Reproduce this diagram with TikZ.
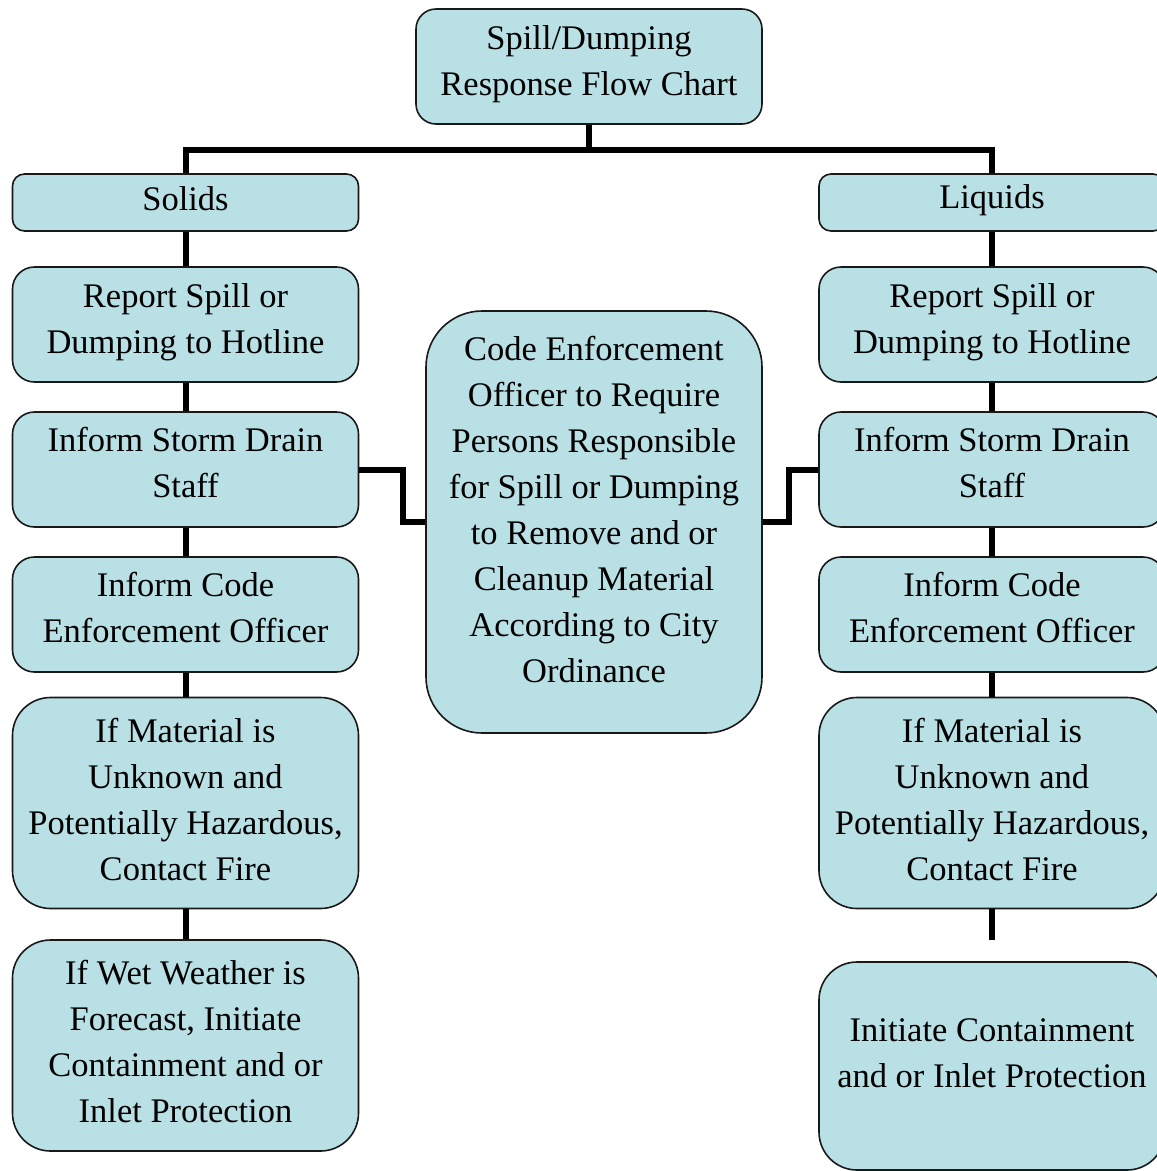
\documentclass[tikz,border=0pt]{standalone}
\usepackage{fontspec}
\setmainfont{Liberation Serif}
\definecolor{boxfill}{RGB}{185,224,228}
\newcommand\topst[1]{\rule{0pt}{#1pt}}
\newcommand\botst[1]{\rule[-#1pt]{0pt}{#1pt}}
\begin{document}
\begin{tikzpicture}[x=1pt,y=1pt,
  box/.style={draw=black!90, line width=1.6pt, fill=boxfill, minimum width=346pt,
    inner sep=0pt, align=center, font=\fontsize{34.5}{46}\selectfont},
  conn/.style={line width=6pt, black}]
\useasboundingbox (0,0) rectangle (1157,-1171);
\clip (0,0) rectangle (1157,-1171);
\coordinate (bus) at (589,-150);
\coordinate (rend) at (992,-940);
% nodes
\path
 node[box, rounded corners=20pt, minimum height=115pt] (title) at (589,-66.5) {\topst{29}Spill/Dumping\\Response Flow Chart\botst{17}}
 node[box, rounded corners=12pt, minimum height=57pt] (solids) at (185.5,-202.5) {\topst{32}Solids\botst{17}}
 node[box, rounded corners=12pt, minimum height=57pt] (liquids) at (992,-202.5) {\topst{31}Liquids\botst{18.6}}
 node[box, rounded corners=22pt, minimum height=115pt] (lrep) at (185.5,-324.5) {\topst{30}Report Spill or\\Dumping to Hotline\botst{17.6}}
 node[box, rounded corners=22pt, minimum height=115pt] (lstorm) at (185.5,-469.5) {\topst{29}Inform Storm Drain\\Staff\botst{18.6}}
 node[box, rounded corners=22pt, minimum height=115pt] (lcode) at (185.5,-614.5) {\topst{29}Inform Code\\Enforcement Officer\botst{20}}
 node[box, rounded corners=38pt, minimum height=211pt] (lmat) at (185.5,-803) {\topst{32}If Material is\\Unknown and\\Potentially Hazardous,\\Contact Fire\botst{16}}
 node[box, rounded corners=38pt, minimum height=211pt] (lwet) at (185.5,-1045.5) {\topst{33}If Wet Weather is\\Forecast, Initiate\\Containment and or\\Inlet Protection\botst{16.6}}
 node[box, rounded corners=22pt, minimum height=115pt] (rrep) at (992,-324.5) {\topst{30}Report Spill or\\Dumping to Hotline\botst{17.6}}
 node[box, rounded corners=22pt, minimum height=115pt] (rstorm) at (992,-469.5) {\topst{29}Inform Storm Drain\\Staff\botst{18.6}}
 node[box, rounded corners=22pt, minimum height=115pt] (rcode) at (992,-614.5) {\topst{29}Inform Code\\Enforcement Officer\botst{20}}
 node[box, rounded corners=38pt, minimum height=211pt] (rmat) at (992,-803) {\topst{32}If Material is\\Unknown and\\Potentially Hazardous,\\Contact Fire\botst{16}}
 node[box, rounded corners=38pt, minimum height=208pt] (rinit) at (992,-1066) {\topst{26}Initiate Containment\\and or Inlet Protection\botst{28.6}}
 node[box, rounded corners=56pt, minimum height=422pt, minimum width=336pt] (center) at (594,-522) {\topst{28}Code Enforcement\\Officer to Require\\Persons Responsible\\for Spill or Dumping\\to Remove and or\\Cleanup Material\\According to City\\Ordinance\botst{30}};
% connectors
\draw[conn] (title.south) -- (bus);
\draw[conn, line join=miter] (solids.north) |- (bus) -| (liquids.north);
\draw[conn] (solids.south) -- (lrep.north);
\draw[conn] (lrep.south) -- (lstorm.north);
\draw[conn] (lstorm.south) -- (lcode.north);
\draw[conn] (lcode.south) -- (lmat.north);
\draw[conn] (lmat.south) -- (lwet.north);
\draw[conn] (liquids.south) -- (rrep.north);
\draw[conn] (rrep.south) -- (rstorm.north);
\draw[conn] (rstorm.south) -- (rcode.north);
\draw[conn] (rcode.south) -- (rmat.north);
\draw[conn] (rmat.south) -- (rend);
\draw[conn, line join=miter] (lstorm.east) -- ++(44,0) |- (center.west);
\draw[conn, line join=miter] (rstorm.west) -- ++(-29,0) |- (center.east);
\end{tikzpicture}
\end{document}
